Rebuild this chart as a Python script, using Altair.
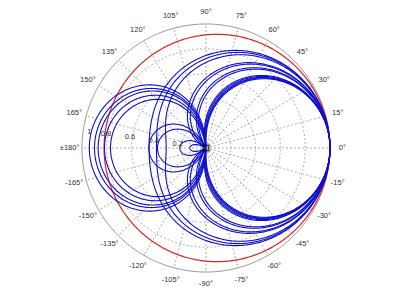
import numpy as np
import pandas as pd
import altair as alt

# ---------------- data ----------------
# first-order polar patterns |A + (1 - A) cos(theta)|, drawn on a compressed radius (power P)
blue_A = [0.039, 0.066, 0.085, 0.117, 0.147, 0.322, 0.357, 0.437, 0.467, 0.61, 0.647, 0.677]
red_A = [0.885]
P = 0.75

ring_values = [0.2, 0.4, 0.6, 0.8]
outer_ring = 1.0
ring_label_text = ["0.2", "0.4", "0.6", "0.8", "1"]
ring_label_r = [0.23, 0.425, 0.62, 0.815, 0.95]
ring_label_angle = 172

spoke_angles = list(range(0, 360, 15))
angle_label_values = [0, 15, 30, 45, 60, 75, 90, 105, 120, 135, 150, 165, 180,
                      -165, -150, -135, -120, -105, -90, -75, -60, -45, -30, -15]
angle_label_text = ["0°", "15°", "30°", "45°", "60°", "75°", "90°", "105°", "120°", "135°",
                    "150°", "165°", "±180°", "-165°", "-150°", "-135°", "-120°", "-105°",
                    "-90°", "-75°", "-60°", "-45°", "-30°", "-15°"]
label_radius = 1.1

# ---------------- geometry of the view ----------------
W, H = 400, 306
CX, CY, RPX = 206, 148, 124
xdom = [-CX / RPX, (W - CX) / RPX]
ydom = [-(H - CY) / RPX, CY / RPX]

theta = np.radians(np.arange(0, 360.25, 0.5))


def pattern_df(As, prefix):
    rows = []
    for k, A in enumerate(As):
        r = np.abs(A + (1 - A) * np.cos(theta)) ** P
        for i, (t, rr) in enumerate(zip(theta, r)):
            rows.append({"id": f"{prefix}{k}", "i": i, "x": rr * np.cos(t), "y": rr * np.sin(t)})
    return pd.DataFrame(rows)


def ring_df(values):
    rows = []
    for k, rv in enumerate(values):
        for i, t in enumerate(theta):
            rows.append({"id": f"r{k}", "i": i, "x": rv * np.cos(t), "y": rv * np.sin(t)})
    return pd.DataFrame(rows)


spokes = pd.DataFrame({
    "x": [0.0] * len(spoke_angles),
    "y": [0.0] * len(spoke_angles),
    "x2": [np.cos(np.radians(a)) for a in spoke_angles],
    "y2": [np.sin(np.radians(a)) for a in spoke_angles],
})

angle_labels = pd.DataFrame({
    "x": [label_radius * np.cos(np.radians(a)) for a in angle_label_values],
    "y": [label_radius * np.sin(np.radians(a)) for a in angle_label_values],
    "t": angle_label_text,
})

ring_labels = pd.DataFrame({
    "x": [r * np.cos(np.radians(ring_label_angle)) for r in ring_label_r],
    "y": [r * np.sin(np.radians(ring_label_angle)) for r in ring_label_r],
    "t": ring_label_text,
})

origin = pd.DataFrame({"x": [0.0], "y": [0.0]})

X = alt.X("x:Q", scale=alt.Scale(domain=xdom, nice=False, zero=False), axis=None)
Y = alt.Y("y:Q", scale=alt.Scale(domain=ydom, nice=False, zero=False), axis=None)

grid_rings = alt.Chart(ring_df(ring_values)).mark_line(
    color="#8a8a8a", strokeWidth=0.7, strokeDash=[2, 2]
).encode(x=X, y=Y, detail="id:N", order="i:Q")

grid_spokes = alt.Chart(spokes).mark_rule(
    color="#8a8a8a", strokeWidth=0.7, strokeDash=[2, 2]
).encode(x=X, y=Y, x2="x2:Q", y2="y2:Q")

outer = alt.Chart(ring_df([outer_ring])).mark_line(
    color="#777777", strokeWidth=0.8
).encode(x=X, y=Y, detail="id:N", order="i:Q")

blue = alt.Chart(pattern_df(blue_A, "b")).mark_line(
    color="#1010d0", strokeWidth=1.1
).encode(x=X, y=Y, detail="id:N", order="i:Q")

red = alt.Chart(pattern_df(red_A, "red")).mark_line(
    color="#dd2222", strokeWidth=1.2
).encode(x=X, y=Y, detail="id:N", order="i:Q")

alabels = alt.Chart(angle_labels).mark_text(
    fontSize=7.5, font="Liberation Sans", color="#333333", align="center", baseline="middle"
).encode(x=X, y=Y, text="t:N")

rlabels = alt.Chart(ring_labels).mark_text(
    fontSize=7.5, font="Liberation Sans", color="#333333", align="center", baseline="middle"
).encode(x=X, y=Y, text="t:N")

center = alt.Chart(origin).mark_point(
    shape="square", size=30, filled=False, color="black", strokeWidth=1.5
).encode(x=X, y=Y)

chart = alt.layer(grid_rings, grid_spokes, outer, red, blue, alabels, rlabels, center).properties(
    width=W, height=H, padding=0, autosize=alt.AutoSizeParams(type="none"), background="white"
).configure_view(stroke=None)

chart.save("out.html", embed_options={"renderer": "svg", "actions": False})
